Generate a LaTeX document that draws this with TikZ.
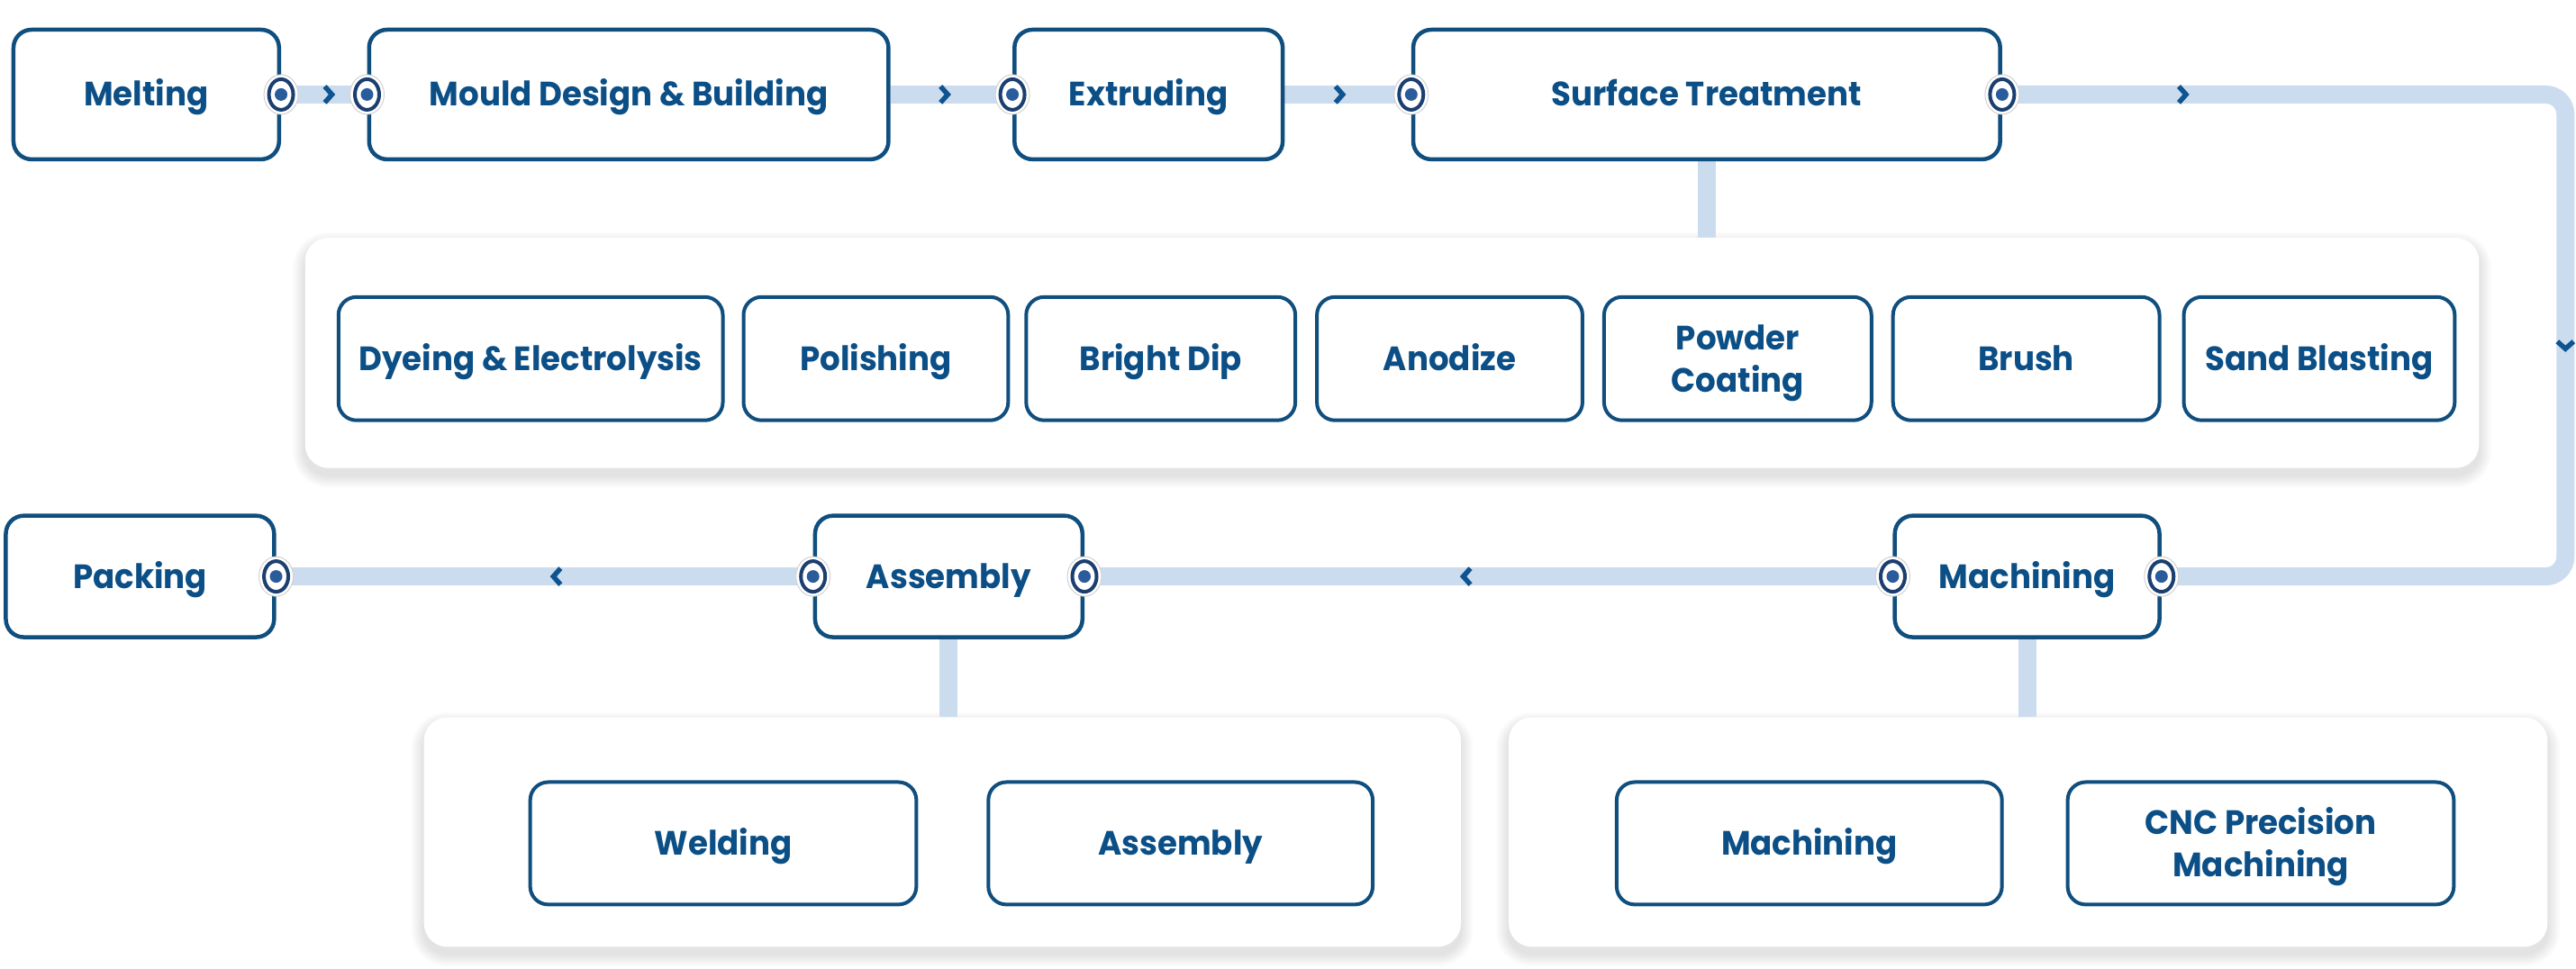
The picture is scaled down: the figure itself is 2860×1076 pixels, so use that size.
\documentclass[tikz,border=0pt]{standalone}
\usepackage{fontspec}
\newfontfamily\pop[FakeStretch=0.95]{Poppins}
\usetikzlibrary{calc}
\definecolor{txt}{HTML}{0B4F86}
\definecolor{bord}{HTML}{104E7E}
\definecolor{flow}{HTML}{CCDCEF}
\definecolor{ring}{HTML}{1B3F70}
\definecolor{ringc}{HTML}{2A5C9C}
\definecolor{chev}{HTML}{0E5491}
\pgfdeclarelayer{back}
\pgfdeclarelayer{bg}
\pgfsetlayers{back,bg,main}
\newcommand{\topstrut}{\rule{0pt}{37pt}}
\tikzset{
  box/.style={draw=bord, line width=4.5pt, rounded corners=20pt, fill=white,
    text=txt, font=\pop\bfseries\fontsize{37.5}{47}\selectfont, align=center,
    inner sep=0pt, minimum height=144pt, text height=26pt, text depth=0pt},
  two/.style={text height={}, text depth={}},
  subbox/.style={box, line width=4pt, minimum height=137pt},
  panel/.style={fill=white, rounded corners=26pt, inner sep=0pt},
  flowline/.style={draw=flow, line width=20pt},
  dotm/.pic={
    \fill[white] (0,0) ellipse (19pt and 22pt);
    \draw[black!18, line width=1pt] (0,0) ellipse (19pt and 22pt);
    \draw[ring, line width=4pt, fill=white] (0,0) ellipse (13.5pt and 17pt);
    \fill[ringc] (0,0) circle (7pt);
  },
  chevR/.pic={\draw[chev, line width=5.5pt, line join=miter] (-4,-9) -- (4,0) -- (-4,9);},
  chevL/.pic={\draw[chev, line width=5.5pt, line join=miter] (4,-9) -- (-4,0) -- (4,9);},
  chevD/.pic={\draw[chev, line width=5.5pt, line join=miter] (-9,-4) -- (0,4) -- (9,-4);},
}
\newcommand{\panelshadow}[1]{%
  \begin{pgfonlayer}{bg}
  \foreach \i in {1,...,14}{
    \fill[black, opacity=0.009, rounded corners=26pt+\i pt]
      ([xshift=-\i pt, yshift=-8pt+\i pt]#1.north west) rectangle ([xshift=\i pt, yshift=-8pt-\i pt]#1.south east);
  }
  \end{pgfonlayer}}
\begin{document}
\begin{tikzpicture}[x=1pt,y=-1pt]
\begin{pgfonlayer}{back}
\useasboundingbox[fill=white] (0,0) rectangle (2860,1076);
\end{pgfonlayer}

% panels
\node[panel, minimum width=2415pt, minimum height=256pt] (p1) at (1546.5,392) {};
\node[panel, minimum width=1152pt, minimum height=255pt] (p2) at (1047,924.5) {};
\node[panel, minimum width=1154pt, minimum height=255pt] (p3) at (2253,924.5) {};
\panelshadow{p1}\panelshadow{p2}\panelshadow{p3}

% main row 1
\node[box, minimum width=295pt] (melt) at (162.5,105) {Melting};
\node[box, minimum width=577pt] (mould) at (698.5,105) {Mould Design \& Building};
\node[box, minimum width=298pt] (extr) at (1276,105) {Extruding};
\node[box, minimum width=652pt] (surf) at (1896,105) {Surface Treatment};

% main row 2
\node[box, minimum width=298pt, minimum height=135pt] (pack) at (155.5,640.5) {Packing};
\node[box, minimum width=297pt, minimum height=135pt] (asm) at (1054,640.5) {Assembly};
\node[box, minimum width=294pt, minimum height=135pt] (mach) at (2252,640.5) {Machining};

% sub boxes panel 1
\node[subbox, minimum width=427pt] (dye) at (589.5,398.5) {Dyeing \& Electrolysis};
\node[subbox, minimum width=294pt] (pol) at (973,398.5) {Polishing};
\node[subbox, minimum width=299pt] (bd) at (1289.5,398.5) {Bright Dip};
\node[subbox, minimum width=295pt] (ano) at (1610.5,398.5) {Anodize};
\node[subbox, two, minimum width=297pt] (pc) at (1930.5,398.5) {\topstrut Powder\\Coating};
\node[subbox, minimum width=296pt] (br) at (2251,398.5) {Brush};
\node[subbox, minimum width=301pt] (sb) at (2576.5,398.5) {Sand Blasting};

% sub boxes panels 2,3
\node[subbox, minimum width=429pt, minimum height=136pt] (weld) at (803.5,937) {Welding};
\node[subbox, minimum width=427pt, minimum height=136pt] (asm2) at (1311.5,937) {Assembly};
\node[subbox, minimum width=428pt, minimum height=136pt] (mach2) at (2010,937) {Machining};
\node[subbox, two, minimum width=429pt, minimum height=136pt] (cnc) at (2511.5,937) {\topstrut CNC Precision\\Machining};

% connectors
\coordinate (rc) at (2850,0);
\begin{pgfonlayer}{bg}
\draw[flowline] (melt.east) -- (mould.west);
\draw[flowline] (mould.east) -- (extr.west);
\draw[flowline] (extr.east) -- (surf.west);
\draw[flowline, rounded corners=22pt] (surf.east) -- (surf.east -| rc) -- (mach.east -| rc) -- (mach.east);
\draw[flowline] (mach.west) -- (asm.east);
\draw[flowline] (asm.west) -- (pack.east);
\draw[flowline] (surf.south) -- (surf.south |- p1.north);
\draw[flowline] (asm.south) -- (asm.south |- p2.north);
\draw[flowline] (mach.south) -- (mach.south |- p3.north);
\end{pgfonlayer}

% chevrons
\path (melt.east) -- pic[pos=0.55]{chevR} (mould.west);
\path (mould.east) -- pic[pos=0.44]{chevR} (extr.west);
\path (extr.east) -- pic[pos=0.43]{chevR} (surf.west);
\path (surf.east) -- pic[pos=0.32]{chevR} (surf.east -| rc);
\path (surf.east -| rc) -- pic[pos=0.52]{chevD} (mach.east -| rc);
\path (mach.west) -- pic[pos=0.527]{chevL} (asm.east);
\path (asm.west) -- pic[pos=0.477]{chevL} (pack.east);

% dots
\foreach \a in {melt.east, mould.west, extr.west, surf.west, surf.east, pack.east, asm.west, asm.east, mach.west, mach.east}
  \pic at (\a) {dotm};
\end{tikzpicture}
\end{document}
